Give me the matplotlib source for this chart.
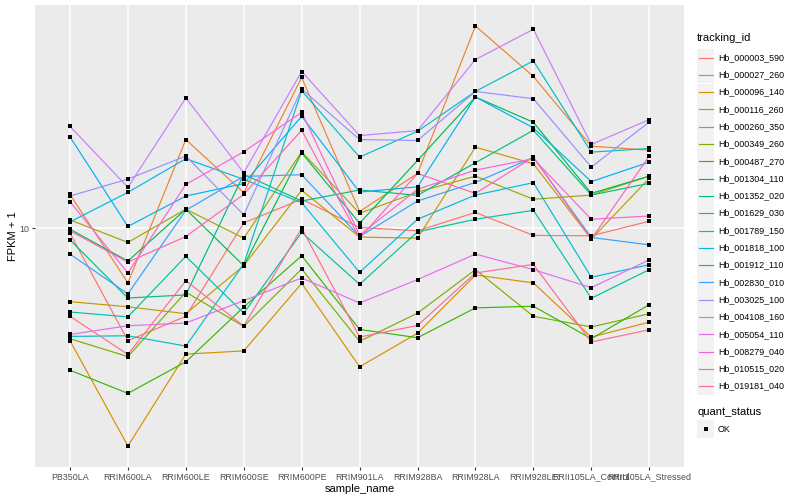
import math
import matplotlib.pyplot as plt
from matplotlib.ticker import NullLocator
from matplotlib.patches import Rectangle

plt.rcParams['font.family'] = ['Liberation Sans', 'DejaVu Sans']

samples = ['PB350LA', 'RRIM600LA', 'RRIM600LE', 'RRIM600SE', 'RRIM600PE', 'RRIM901LA',
           'RRIM928BA', 'RRIM928LA', 'RRIM928LE', 'RRII105LA_Control', 'RRII105LA_Stressed']

tracking_ids = ['Hb_000003_590', 'Hb_000027_260', 'Hb_000096_140', 'Hb_000116_260',
                'Hb_000260_350', 'Hb_000349_260', 'Hb_000487_270', 'Hb_001304_110',
                'Hb_001352_020', 'Hb_001629_030', 'Hb_001789_150', 'Hb_001818_100',
                'Hb_001912_110', 'Hb_002830_010', 'Hb_003025_100', 'Hb_004108_160',
                'Hb_005054_110', 'Hb_008279_040', 'Hb_010515_020', 'Hb_019181_040']

# ggplot hue palette, 20 levels
colours = ['#F8766D', '#EA8331', '#D89000', '#C09B00', '#A3A500', '#7CAE00', '#39B600',
           '#00BB4E', '#00BF7D', '#00C1A3', '#00BFC4', '#00BAE0', '#00B0F6', '#35A2FF',
           '#9590FF', '#C77CFF', '#E76BF3', '#FA62DB', '#FF62BC', '#FF6C91']

# FPKM + 1, one list per gene, in the order of samples
hb_000003_590 = [9.72, 5.22, 6.01, 10.31, 11.82, 10.04, 9.85, 10.95, 9.59, 9.57, 10.41]
hb_000027_260 = [12.16, 7.29, 16.69, 12.28, 23.89, 11.01, 13.72, 32.17, 24.03, 16.06, 15.70]
hb_000096_140 = [5.22, 2.84, 4.83, 4.92, 7.27, 4.49, 5.45, 7.63, 7.29, 5.33, 5.81]
hb_000116_260 = [6.54, 6.35, 6.10, 8.05, 12.45, 9.50, 9.44, 15.97, 14.51, 9.39, 13.34]
hb_000260_350 = [10.49, 9.21, 11.16, 9.44, 15.55, 10.90, 12.32, 13.51, 11.82, 12.11, 13.51]
hb_000349_260 = [5.28, 4.76, 6.91, 5.67, 7.90, 5.20, 6.12, 7.87, 6.01, 5.65, 6.10]
hb_000487_270 = [4.40, 3.85, 4.62, 6.34, 8.53, 5.57, 5.31, 6.31, 6.37, 5.28, 6.43]
hb_001304_110 = [9.94, 8.27, 11.16, 8.05, 15.46, 10.29, 14.79, 21.34, 18.44, 12.23, 13.51]
hb_001352_020 = [9.35, 6.68, 6.80, 13.65, 11.70, 12.47, 12.09, 14.60, 17.61, 12.11, 12.96]
hb_001629_030 = [6.16, 5.99, 8.50, 6.12, 9.76, 7.23, 9.79, 10.53, 11.09, 6.67, 7.87]
hb_001789_150 = [5.35, 5.37, 5.06, 8.13, 22.13, 15.08, 17.51, 22.04, 26.30, 15.52, 15.85]
hb_001818_100 = [10.37, 12.30, 14.94, 13.26, 11.59, 7.75, 10.53, 12.11, 13.01, 7.53, 8.10]
hb_001912_110 = [16.95, 10.10, 12.04, 12.94, 19.09, 12.32, 12.70, 21.34, 17.86, 13.09, 14.65]
hb_002830_010 = [8.61, 6.84, 11.09, 13.49, 13.62, 9.53, 11.70, 13.03, 15.05, 9.48, 9.08]
hb_003025_100 = [12.04, 13.28, 15.17, 10.80, 22.35, 16.69, 16.60, 22.04, 21.13, 14.23, 18.48]
hb_004108_160 = [18.02, 12.66, 21.22, 13.78, 24.73, 17.08, 17.58, 26.50, 31.57, 16.22, 18.73]
hb_005054_110 = [5.41, 5.69, 5.78, 6.58, 7.50, 6.49, 7.43, 8.61, 7.87, 7.09, 8.33]
hb_008279_040 = [11.66, 7.72, 12.88, 15.55, 19.53, 9.61, 12.52, 13.99, 14.94, 10.53, 10.73]
hb_010515_020 = [9.85, 8.22, 9.53, 12.16, 17.61, 9.44, 13.72, 12.23, 15.08, 9.39, 15.17]
hb_019181_040 = [6.01, 4.82, 7.38, 5.68, 10.00, 5.33, 5.70, 7.72, 8.11, 5.18, 5.56]

series = [hb_000003_590, hb_000027_260, hb_000096_140, hb_000116_260, hb_000260_350,
          hb_000349_260, hb_000487_270, hb_001304_110, hb_001352_020, hb_001629_030,
          hb_001789_150, hb_001818_100, hb_001912_110, hb_002830_010, hb_003025_100,
          hb_004108_160, hb_005054_110, hb_008279_040, hb_010515_020, hb_019181_040]

fig = plt.figure(figsize=(8, 5), dpi=100)
ax = fig.add_axes([0.044, 0.066, 0.811, 0.924])
ax.set_facecolor('#EBEBEB')

x = list(range(len(samples)))
for vals, col in zip(series, colours):
    ax.plot(x, vals, color=col, lw=0.85, zorder=2)
for vals in series:
    ax.plot(x, vals, 's', color='black', ms=2.8, mew=0, zorder=3)

# log scale with ggplot-like 5% expansion
ax.set_yscale('log')
allv = [v for s in series for v in s]
llo, lhi = math.log10(min(allv)), math.log10(max(allv))
pad = (lhi - llo) * 0.05
ax.set_ylim(10 ** (llo - pad), 10 ** (lhi + pad))
ax.set_xlim(-0.6, len(samples) - 0.4)
ax.set_yticks([10])
ax.set_yticklabels(['10'])
ax.yaxis.set_minor_locator(NullLocator())
ax.set_xticks(x)
ax.set_xticklabels(samples)

ax.grid(True, color='white', lw=1.1)
ax.set_axisbelow(True)
for sp in ax.spines.values():
    sp.set_visible(False)
ax.tick_params(colors='#333333', length=2.2, width=0.8, labelsize=6.4,
               labelcolor='#4D4D4D', pad=1.8)

ax.set_xlabel('sample_name', fontsize=8, labelpad=2)
ax.set_ylabel('FPKM + 1', fontsize=8)
ax.yaxis.set_label_coords(-0.027, 0.5)

# legend drawn in pixel coordinates
lax = fig.add_axes([0, 0, 1, 1])
lax.set_xlim(0, 800)
lax.set_ylim(500, 0)
lax.axis('off')
lax.text(697, 38, 'tracking_id', fontsize=8, va='center', ha='left')
for i, (name, col) in enumerate(zip(tracking_ids, colours)):
    yc = 57.5 + 17.3 * i
    lax.add_patch(Rectangle((697, yc - 8.6), 17.3, 17.3, facecolor='#F2F2F2', edgecolor='none'))
    lax.plot([699, 712.5], [yc, yc], color=col, lw=0.85)
    lax.text(718, yc, name, fontsize=6.4, va='center', ha='left')
lax.text(697, 412, 'quant_status', fontsize=8, va='center', ha='left')
lax.add_patch(Rectangle((697, 429 - 8.6), 17.3, 17.3, facecolor='#F2F2F2', edgecolor='none'))
lax.plot([705.6], [429], 's', color='black', ms=2.8, mew=0)
lax.text(718, 429, 'OK', fontsize=6.4, va='center', ha='left')

fig.savefig('out.png', dpi=100)
